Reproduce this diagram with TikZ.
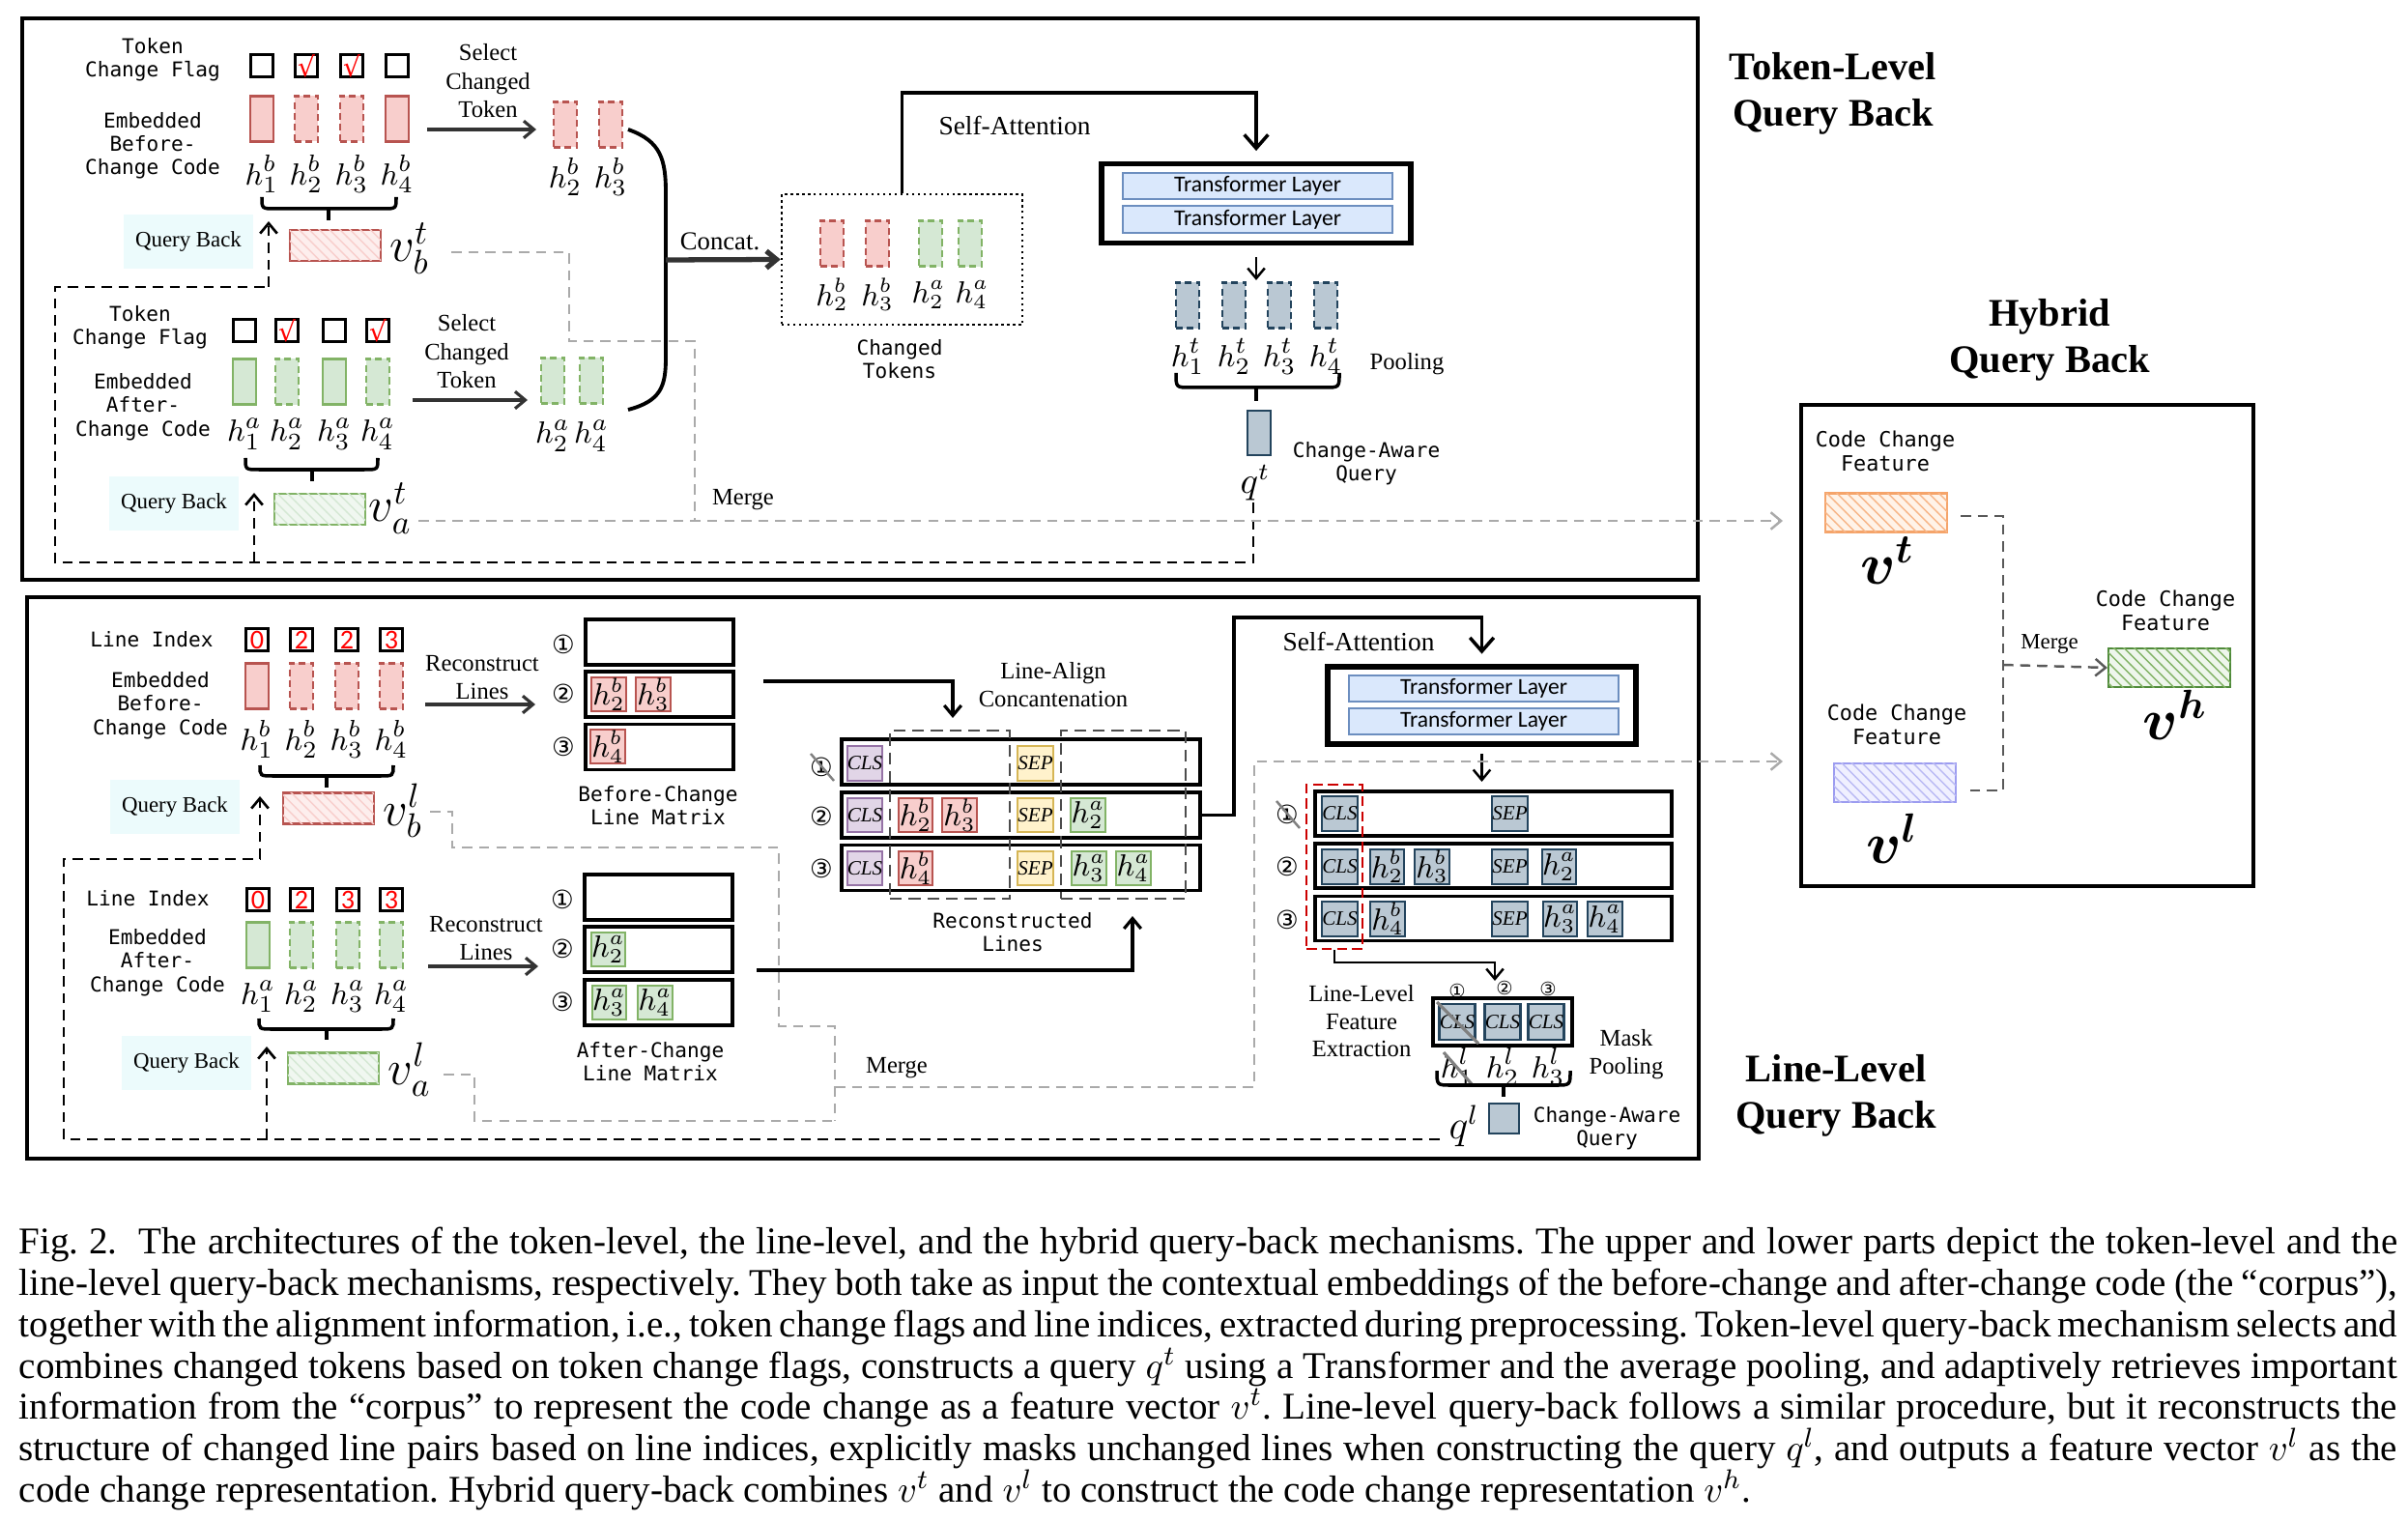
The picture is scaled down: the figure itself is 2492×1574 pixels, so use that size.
\documentclass[tikz,border=0pt]{standalone}
\usepackage{fontspec}
\setmainfont{Liberation Serif}
\newfontfamily\monofont{DejaVu Sans Mono}
\newfontfamily\symfont{DejaVu Sans}
\newfontfamily\layerfont{Carlito}
\usepackage{bm}
\usetikzlibrary{
positioning,%
patterns,%
arrows.meta
}
\definecolor{pinkf}{HTML}{F8CECC}
\definecolor{pinkd}{HTML}{B85450}
\definecolor{greenf}{HTML}{D5E8D4}
\definecolor{greend}{HTML}{82B366}
\definecolor{bluef}{HTML}{DAE8FC}
\definecolor{blued}{HTML}{6C8EBF}
\definecolor{grayf}{HTML}{BAC8D3}
\definecolor{grayd}{HTML}{23445D}
\definecolor{purplef}{HTML}{E1D5E7}
\definecolor{purpled}{HTML}{9673A6}
\definecolor{yellowf}{HTML}{FFF2CC}
\definecolor{yellowd}{HTML}{D6B656}
\definecolor{orangef}{HTML}{FFF3E8}
\definecolor{oranged}{HTML}{F5A46A}
\definecolor{lilacf}{HTML}{F0F0FF}
\definecolor{lilacd}{HTML}{9C9CF0}
\definecolor{hgreenf}{HTML}{EEF6EC}
\definecolor{hgreend}{HTML}{4F8A3A}
\definecolor{qbf}{HTML}{ECFBFC}
\definecolor{arrowc}{HTML}{333333}
\definecolor{mergec}{HTML}{AAAAAA}
\tikzset{
    frame/.style={draw, line width=1.3pt},
    mono/.style={font=\monofont\fontsize{6}{6.9}\selectfont, align=center, inner sep=0pt},
    note/.style={font=\fontsize{7}{8.4}\selectfont, align=center, inner sep=0pt},
    title/.style={font=\fontsize{11.5}{13.7}\selectfont\bfseries, align=center, inner sep=0pt},
    hlab/.style={font=\fontsize{9.5}{9.5}\selectfont, inner sep=0pt},
    vlab/.style={font=\fontsize{14}{14}\selectfont, inner sep=0pt},
    vbig/.style={font=\fontsize{17}{17}\selectfont, inner sep=0pt},
    flag/.style={draw, line width=0.6pt, minimum size=0.23cm, inner sep=0pt},
    idx/.style={flag, text=red, font=\layerfont\fontsize{8}{8}\selectfont},
    tick/.style={text=red, font=\symfont\fontsize{8}{8}\selectfont, inner sep=0pt},
    embb/.style={draw=pinkd, fill=pinkf, line width=0.6pt, minimum width=0.24cm, minimum height=0.47cm, inner sep=0pt},
    emba/.style={embb, draw=greend, fill=greenf},
    embt/.style={embb, draw=grayd, fill=grayf},
    chg/.style={dash pattern=on 2pt off 1.2pt},
    qback/.style={fill=qbf, minimum width=1.33cm, minimum height=0.55cm, inner sep=0pt, font=\fontsize{6.5}{7}\selectfont},
    vec/.style={minimum width=0.94cm, minimum height=0.32cm, inner sep=0pt, line width=0.6pt},
    vecb/.style={vec, draw=pinkd, fill=pinkf!35, postaction={pattern=north west lines, pattern color=pinkf}},
    veca/.style={vec, draw=greend, fill=greenf!35, postaction={pattern=north west lines, pattern color=greenf}},
    feat/.style={minimum width=1.26cm, minimum height=0.4cm, inner sep=0pt, line width=0.6pt},
    tokr/.style={draw=pinkd, fill=pinkf, line width=0.6pt, minimum size=0.355cm, inner sep=0pt, font=\fontsize{9}{9}\selectfont},
    toka/.style={tokr, draw=greend, fill=greenf},
    tokq/.style={tokr, draw=grayd, fill=grayf},
    cls/.style={tokr, draw=purpled, fill=purplef, font=\itshape\fontsize{6}{6}\selectfont},
    sep/.style={cls, draw=yellowd, fill=yellowf},
    clsq/.style={cls, draw=grayd, fill=grayf},
    row/.style={draw, line width=1pt, minimum height=0.47cm, inner sep=0pt},
    circ/.style={font=\symfont\fontsize{7.5}{7.5}\selectfont, inner sep=0pt},
    layer/.style={draw=blued, fill=bluef, line width=0.6pt, minimum width=2.79cm, minimum height=0.275cm, inner sep=0pt, font=\layerfont\fontsize{6.7}{6.7}\selectfont},
    trbox/.style={draw, line width=1.6pt, minimum width=3.2cm, minimum height=0.82cm, inner sep=0pt},
    flow/.style={->, draw=arrowc, line width=0.9pt},
    thin/.style={->, line width=0.7pt},
    attn/.style={-{Straight Barb[length=4pt, width=7pt]}, line width=1pt},
    qpath/.style={dash pattern=on 3pt off 2pt, line width=0.75pt},
    merge/.style={mergec, dash pattern=on 3pt off 2pt, line width=0.7pt},
    hmerge/.style={black!65, dash pattern=on 3pt off 2pt, line width=0.7pt},
    brace/.style={line width=1pt},
    xout/.style={gray, line width=0.7pt},
    capline/.style={anchor=base west, inner sep=0pt, font=\fontsize{11.1}{12}\selectfont\frenchspacing}
}

\begin{document}
\begin{tikzpicture}[x=0.01cm, y=-0.01cm, >={Straight Barb[length=3pt, width=5pt]}]
\useasboundingbox (0,0) rectangle (2492,1574);
\draw[frame] (23,19) rectangle (1757,600);
\draw[frame] (28,618) rectangle (1758,1199);
\draw[frame] (1864,419) rectangle (2332,917);
\node[title] (ttok) at (1897,97) {Token-Level\\Query Back};
\node[title] (thyb) at (2121,352) {Hybrid\\Query Back};
\node[title] (tline) at (1900,1134) {Line-Level\\Query Back};

% token level, before-change code
\node[mono] (tfb) at (158,62) {Token\\Change Flag};
\node[flag] (fb1) at (271,68) {};
\node[flag] (fb2) at (317,68) {};
\node[flag] (fb3) at (364,68) {};
\node[flag] (fb4) at (411,68) {};
\node[tick] (kb2) at (fb2) {√};
\node[tick] (kb3) at (fb3) {√};
\node[mono] (ecb) at (158,151) {Embedded\\Before-\\Change Code};
\node[embb] (bb1) at (271,123) {};
\node[embb, chg] (bb2) at (317,123) {};
\node[embb, chg] (bb3) at (364,123) {};
\node[embb] (bb4) at (411,123) {};
\node[hlab] (hb1) at (271,180) {$h_1^b$};
\node[hlab] (hb2) at (317,180) {$h_2^b$};
\node[hlab] (hb3) at (364,180) {$h_3^b$};
\node[hlab] (hb4) at (411,180) {$h_4^b$};
\draw[brace] (271,204) .. controls (271,216) .. (285,216) -- (396,216) .. controls (410,216) .. (410,204);
\draw[brace] (340,216) -- (340,228);
\node[qback] (qbb) at (195,250) {Query Back};
\node[vecb] (vtb) at (347,254) {};
\node[vlab] (lvtb) at (424,257) {$v_b^t$};
\node[note] (selb) at (505,84) {Select\\Changed\\Token};
\coordinate (selb0) at (442,134);
\coordinate (selb1) at (555,134);
\draw[flow] (selb0) -- (selb1);
\node[embb, chg] (sb2) at (585,129) {};
\node[embb, chg] (sb3) at (632,129) {};
\node[hlab] (hsb2) at (585,183) {$h_2^b$};
\node[hlab] (hsb3) at (632,183) {$h_3^b$};

% token level, after-change code
\node[mono] (tfa) at (145,339) {Token\\Change Flag};
\node[flag] (fa1) at (253,342) {};
\node[flag] (fa2) at (297,342) {};
\node[flag] (fa3) at (346,342) {};
\node[flag] (fa4) at (391,342) {};
\node[tick] (ka2) at (fa2) {√};
\node[tick] (ka4) at (fa4) {√};
\node[mono] (eca) at (148,421) {Embedded\\After-\\Change Code};
\node[emba] (ba1) at (253,395) {};
\node[emba, chg] (ba2) at (297,395) {};
\node[emba] (ba3) at (346,395) {};
\node[emba, chg] (ba4) at (391,395) {};
\node[hlab] (ha1) at (253,449) {$h_1^a$};
\node[hlab] (ha2) at (297,449) {$h_2^a$};
\node[hlab] (ha3) at (346,449) {$h_3^a$};
\node[hlab] (ha4) at (391,449) {$h_4^a$};
\draw[brace] (254,474) .. controls (254,486) .. (268,486) -- (377,486) .. controls (391,486) .. (391,474);
\draw[brace] (323,486) -- (323,498);
\node[qback] (qba) at (180,521) {Query Back};
\node[veca] (vta) at (331,527) {};
\node[vlab] (lvta) at (404,526) {$v_a^t$};
\node[note] (sela) at (483,364) {Select\\Changed\\Token};
\coordinate (sela0) at (427,414);
\coordinate (sela1) at (546,414);
\draw[flow] (sela0) -- (sela1);
\node[emba, chg] (sa2) at (572,394) {};
\node[emba, chg] (sa4) at (612,394) {};
\node[hlab] (hsa2) at (572,451) {$h_2^a$};
\node[hlab] (hsa4) at (612,451) {$h_4^a$};

% concatenation of changed tokens
\draw[line width=1.1pt] (650,134) .. controls (684,146) and (689,165) .. (689,200) -- (689,370) .. controls (689,400) and (684,415) .. (650,424);
\coordinate (cc) at (689,269);
\node[draw, densely dotted, line width=0.7pt, minimum width=2.49cm, minimum height=1.35cm] (ctok) at (933.5,268.5) {};
\draw[->, line width=1.5pt, arrowc] (cc) -- (ctok.west);
\node[note, font=\fontsize{7.6}{8}\selectfont] (lcc) at (745,250) {Concat.};
\node[embb, chg] (ct1) at (861,252) {};
\node[embb, chg] (ct2) at (908,252) {};
\node[emba, chg] (ct3) at (963,252) {};
\node[emba, chg] (ct4) at (1004,252) {};
\node[hlab, font=\fontsize{9}{9}\selectfont] (hct1) at (861,305) {$h_2^b$};
\node[hlab, font=\fontsize{9}{9}\selectfont] (hct2) at (908,305) {$h_3^b$};
\node[hlab, font=\fontsize{9}{9}\selectfont] (hct3) at (961,305) {$h_2^a$};
\node[hlab, font=\fontsize{9}{9}\selectfont] (hct4) at (1006,305) {$h_4^a$};
\node[mono] (lct) at (931,372) {Changed\\Tokens};

% token level transformer and pooling
\node[trbox] (trf) at (1300,210.5) {};
\node[layer] (tl1) at (1301.5,192.5) {Transformer Layer};
\node[layer] (tl2) at (1301.5,227) {Transformer Layer};
\coordinate (sat0) at (933.5,96);
\coordinate (sat1) at (1300,96);
\draw[attn, shorten >=3pt] (ctok.north) -- (sat0) -- (sat1) -- (trf.north);
\node[note, font=\fontsize{7.8}{8}\selectfont] (lsat) at (1050,130) {Self-Attention};
\coordinate (trf0) at (1300,290);
\draw[thin, shorten <=3.4pt] (trf.south) -- (trf0);
\node[embt, chg] (ht1) at (1229,316) {};
\node[embt, chg] (ht2) at (1277,316) {};
\node[embt, chg] (ht3) at (1324,316) {};
\node[embt, chg] (ht4) at (1372,316) {};
\node[hlab] (hht1) at (1229,369) {$h_1^t$};
\node[hlab] (hht2) at (1277,369) {$h_2^t$};
\node[hlab] (hht3) at (1324,369) {$h_3^t$};
\node[hlab] (hht4) at (1372,369) {$h_4^t$};
\draw[brace] (1217,386) .. controls (1217,401) .. (1232,401) -- (1371,401) .. controls (1386,401) .. (1386,386);
\draw[brace] (1300,401) -- (1300,415);
\node[note] (lpool) at (1456,377) {Pooling};
\node[embt, minimum height=0.46cm] (qt) at (1303,448) {};
\node[mono] (lcaq) at (1414,480) {Change-Aware\\Query};
\node[hlab, font=\fontsize{10.5}{10.5}\selectfont] (lqt) at (1299,500) {$q^t$};

% token level query back and merge
\coordinate (qt0) at (1297,520);
\coordinate (qtc1) at (57,582);
\coordinate (qtc2) at (278,297);
\coordinate (qtt) at (278,229);
\coordinate (qta0) at (263,582);
\coordinate (qtat) at (263,510);
\draw[qpath] (qt0) |- (qtc1) |- (qtc2);
\draw[qpath, ->] (qtc2) -- (qtt);
\draw[qpath, ->] (qta0) -- (qtat);
\coordinate (mtb) at (467,261);
\coordinate (mtc) at (589,353);
\coordinate (mtj) at (719,539);
\coordinate (mta) at (433,539);
\coordinate (mth) at (1845,539);
\draw[merge] (mtb) -| (mtc) -| (mtj);
\draw[merge, ->] (mta) -- (mth);
\node[note] (lmt) at (769,517) {Merge};

% line level, before-change code
\node[mono] (lib) at (157,662) {Line Index};
\node[idx] (ib1) at (266,662) {0};
\node[idx] (ib2) at (312,662) {2};
\node[idx] (ib3) at (359,662) {2};
\node[idx] (ib4) at (405,662) {3};
\node[mono] (elb) at (166,730) {Embedded\\Before-\\Change Code};
\node[embb] (lb1) at (266,710) {};
\node[embb, chg] (lb2) at (312,710) {};
\node[embb, chg] (lb3) at (359,710) {};
\node[embb, chg] (lb4) at (405,710) {};
\node[hlab] (hlb1) at (266,765) {$h_1^b$};
\node[hlab] (hlb2) at (312,765) {$h_2^b$};
\node[hlab] (hlb3) at (359,765) {$h_3^b$};
\node[hlab] (hlb4) at (405,765) {$h_4^b$};
\draw[brace] (269,792) .. controls (269,803) .. (283,803) -- (393,803) .. controls (407,803) .. (407,792);
\draw[brace] (338,803) -- (338,815);
\node[qback] (qblb) at (181,835) {Query Back};
\node[vecb] (vlb) at (340,836.5) {};
\node[vlab] (lvlb) at (417,839) {$v_b^l$};
\node[note] (rcb) at (499,701) {Reconstruct\\Lines};
\coordinate (rcb0) at (440,729);
\coordinate (rcb1) at (554,729);
\draw[flow] (rcb0) -- (rcb1);
\node[row, minimum width=1.53cm] (mb1) at (682.5,664.5) {};
\node[row, minimum width=1.53cm] (mb2) at (682.5,718.5) {};
\node[row, minimum width=1.53cm] (mb3) at (682.5,773) {};
\node[circ] (nb1) at (583,667) {①};
\node[circ] (nb2) at (583,718) {②};
\node[circ] (nb3) at (583,773) {③};
\node[tokr] (rb22) at (630,718.5) {$h_2^b$};
\node[tokr] (rb23) at (676,718.5) {$h_3^b$};
\node[tokr] (rb34) at (629,772.5) {$h_4^b$};
\node[mono] (lmb) at (681,833.5) {Before-Change\\Line Matrix};

% line level, after-change code
\node[mono] (lia) at (153,930) {Line Index};
\node[idx] (ia1) at (267,931) {0};
\node[idx] (ia2) at (312,931) {2};
\node[idx] (ia3) at (360,931) {3};
\node[idx] (ia4) at (405,931) {3};
\node[mono] (ela) at (163,996) {Embedded\\After-\\Change Code};
\node[emba] (la1) at (267,978) {};
\node[emba, chg] (la2) at (312,978) {};
\node[emba, chg] (la3) at (360,978) {};
\node[emba, chg] (la4) at (405,978) {};
\node[hlab] (hla1) at (267,1031) {$h_1^a$};
\node[hlab] (hla2) at (312,1031) {$h_2^a$};
\node[hlab] (hla3) at (360,1031) {$h_3^a$};
\node[hlab] (hla4) at (405,1031) {$h_4^a$};
\draw[brace] (268,1054) .. controls (268,1065) .. (282,1065) -- (393,1065) .. controls (407,1065) .. (407,1054);
\draw[brace] (338,1065) -- (338,1076);
\node[qback] (qbla) at (193,1100) {Query Back};
\node[veca] (vla) at (345,1105.5) {};
\node[vlab] (lvla) at (424,1107) {$v_a^l$};
\node[note] (rca) at (503,971) {Reconstruct\\Lines};
\coordinate (rca0) at (443,1000);
\coordinate (rca1) at (557,1000);
\draw[flow] (rca0) -- (rca1);
\node[row, minimum width=1.53cm] (ma1) at (681.5,928.5) {};
\node[row, minimum width=1.53cm] (ma2) at (681.5,982.5) {};
\node[row, minimum width=1.53cm] (ma3) at (681.5,1037.5) {};
\node[circ] (na1) at (582,931) {①};
\node[circ] (na2) at (582,982) {②};
\node[circ] (na3) at (582,1037) {③};
\node[toka] (ra22) at (629.5,982.5) {$h_2^a$};
\node[toka] (ra33) at (630.5,1037.5) {$h_3^a$};
\node[toka] (ra34) at (678,1037.5) {$h_4^a$};
\node[mono] (lma) at (673,1098.5) {After-Change\\Line Matrix};

% line-align concatenation
\node[row, minimum width=3.71cm] (cr1) at (1056.5,788.5) {};
\node[row, minimum width=3.71cm] (cr2) at (1056.5,843.5) {};
\node[row, minimum width=3.71cm] (cr3) at (1056.5,898) {};
\node[circ] (cn1) at (850,794) {①};
\node[circ] (cn2) at (850,845) {②};
\node[circ] (cn3) at (850,899) {③};
\draw[xout] (839,780) -- (863,808);
\node[cls] (c1c) at (895,790) {CLS};
\node[sep] (c1s) at (1071.5,790) {SEP};
\node[cls] (c2c) at (895,843.5) {CLS};
\node[tokr] (c22) at (947.5,843.5) {$h_2^b$};
\node[tokr] (c23) at (993,843.5) {$h_3^b$};
\node[sep] (c2s) at (1071.5,843.5) {SEP};
\node[toka] (c2a) at (1126,843.5) {$h_2^a$};
\node[cls] (c3c) at (895,898.5) {CLS};
\node[tokr] (c34) at (947.5,898.5) {$h_4^b$};
\node[sep] (c3s) at (1071.5,898.5) {SEP};
\node[toka] (c33) at (1127,898.5) {$h_3^a$};
\node[toka] (c3a4) at (1173,898.5) {$h_4^a$};
\node[draw=black!70, dash pattern=on 3.5pt off 2pt, line width=0.7pt, minimum width=1.24cm, minimum height=1.74cm] (gb1) at (983,843) {};
\node[draw=black!70, dash pattern=on 3.5pt off 2pt, line width=0.7pt, minimum width=1.29cm, minimum height=1.74cm] (gb2) at (1162.5,843) {};
\node[note] (llac) at (1090,708.5) {Line-Align\\Concantenation};
\node[mono] (lrl) at (1048,965) {Reconstructed\\Lines};
\coordinate (lab0) at (790,705);
\coordinate (labc) at (986,705);
\coordinate (labt) at (986,743);
\draw[thin, line width=0.9pt] (lab0) -- (labc) -- (labt);
\coordinate (laa0) at (783,1004);
\coordinate (laac) at (1172,1004);
\coordinate (laat) at (1172,948);
\draw[thin, line width=0.9pt] (laa0) -- (laac) -- (laat);

% line level transformer
\node[trbox, minimum height=0.8cm, minimum width=3.19cm] (trfl) at (1533.5,730) {};
\node[layer] (tll1) at (1535.5,712.5) {Transformer Layer};
\node[layer] (tll2) at (1535.5,746.5) {Transformer Layer};
\coordinate (sab0) at (1277,639);
\coordinate (sab1) at (1533.5,639);
\draw[attn, shorten >=3pt] (cr2.east) -| (sab0) -- (sab1) -- (trfl.north);
\node[note, font=\fontsize{7.8}{8}\selectfont] (lsab) at (1406,664) {Self-Attention};
\coordinate (trfl0) at (1533.5,809);
\draw[thin, shorten <=2pt] (trfl.south) -- (trfl0);
\node[row, minimum width=3.69cm, minimum height=0.46cm] (or1) at (1545.5,842) {};
\node[row, minimum width=3.69cm, minimum height=0.46cm] (or2) at (1545.5,896) {};
\node[row, minimum width=3.69cm, minimum height=0.46cm] (or3) at (1545.5,950.5) {};
\node[circ] (on1) at (1332,843) {①};
\node[circ] (on2) at (1332,897) {②};
\node[circ] (on3) at (1332,952) {③};
\draw[xout] (1321,829) -- (1345,857);
\node[clsq] (q1c) at (1386.5,842) {CLS};
\node[clsq] (q1s) at (1562.5,842) {SEP};
\node[clsq] (q2c) at (1386.5,897) {CLS};
\node[tokq] (q22) at (1435.5,897) {$h_2^b$};
\node[tokq] (q23) at (1482,897) {$h_3^b$};
\node[clsq] (q2s) at (1562.5,897) {SEP};
\node[tokq] (q2a) at (1613.5,897) {$h_2^a$};
\node[clsq] (q3c) at (1386.5,951) {CLS};
\node[tokq] (q34) at (1436,951) {$h_4^b$};
\node[clsq] (q3s) at (1562.5,951) {SEP};
\node[tokq] (q33) at (1614.5,951) {$h_3^a$};
\node[tokq] (q3a4) at (1661,951) {$h_4^a$};
\node[draw=red!80!black, dash pattern=on 3pt off 1.5pt, line width=0.6pt, minimum width=0.58cm, minimum height=1.7cm] (rdb) at (1381,897) {};

% line-level feature extraction and mask pooling
\node[note, font=\fontsize{7}{8.1}\selectfont] (llfe) at (1409,1057) {Line-Level\\Feature\\Extraction};
\node[row, minimum width=1.44cm, minimum height=0.49cm] (pb) at (1555,1057.5) {};
\coordinate (rdc) at (1547,996);
\coordinate (pbt) at (1547,1015);
\draw[thin] (rdb.south) |- (rdc) -- (pbt);
\node[clsq, minimum size=0.37cm] (pc1) at (1508,1057.5) {CLS};
\node[clsq, minimum size=0.37cm] (pc2) at (1555,1057.5) {CLS};
\node[clsq, minimum size=0.37cm] (pc3) at (1600,1057.5) {CLS};
\draw[xout, line width=0.9pt] (1487,1037) -- (1530,1080);
\node[circ, font=\symfont\fontsize{5.5}{5.5}\selectfont] (pn1) at (1508,1025) {①};
\node[circ, font=\symfont\fontsize{5.5}{5.5}\selectfont] (pn2) at (1557,1022) {②};
\node[circ, font=\symfont\fontsize{5.5}{5.5}\selectfont] (pn3) at (1602,1023) {③};
\node[hlab] (hl1) at (1508,1104) {$h_1^l$};
\node[hlab] (hl2) at (1555,1104) {$h_2^l$};
\node[hlab] (hl3) at (1602,1104) {$h_3^l$};
\draw[xout, line width=0.9pt] (1494,1089) -- (1524,1123);
\draw[brace] (1487,1108) .. controls (1487,1123) .. (1502,1123) -- (1610,1123) .. controls (1625,1123) .. (1625,1108);
\draw[brace] (1556,1123) -- (1556,1135);
\node[embt, minimum width=0.31cm, minimum height=0.31cm] (ql) at (1556.5,1157.5) {};
\node[hlab, font=\fontsize{12}{12}\selectfont] (lql) at (1515,1165) {$q^l$};
\node[note] (lmp) at (1683,1091) {Mask\\Pooling};
\node[mono] (lcaql) at (1663,1167.5) {Change-Aware\\Query};

% line level query back and merge
\coordinate (ql0) at (1490,1179);
\coordinate (qlc1) at (66,1179);
\coordinate (qlc2) at (269,889);
\coordinate (qlt) at (269,824);
\coordinate (qla0) at (276,1179);
\coordinate (qlat) at (276,1083);
\draw[qpath] (ql0) -- (qlc1) |- (qlc2);
\draw[qpath, ->] (qlc2) -- (qlt);
\draw[qpath, ->] (qla0) -- (qlat);
\coordinate (mlb) at (445,840);
\coordinate (mlc1) at (468,877);
\coordinate (mlc2) at (806,1062);
\coordinate (mlj) at (864,1160);
\coordinate (mla) at (459,1112);
\coordinate (mlc3) at (491,1160);
\coordinate (mlm) at (864,1125);
\coordinate (mlc4) at (1298,788);
\coordinate (mlh) at (1845,788);
\draw[merge] (mlb) -| (mlc1) -| (mlc2) -| (mlj);
\draw[merge] (mla) -| (mlc3) -- (mlj);
\draw[merge, ->] (mlm) -| (mlc4) -- (mlh);
\node[note] (lml) at (928,1105) {Merge};

% hybrid query back
\node[mono, font=\monofont\fontsize{6.2}{7.2}\selectfont] (cft) at (1951,467) {Code Change\\Feature};
\node[feat, draw=oranged, fill=orangef, postaction={pattern=north west lines, pattern color=oranged!80}] (fvt) at (1952,530.5) {};
\node[vbig] (lfvt) at (1953,580) {$\bm{v}^{\bm{t}}$};
\node[mono, font=\monofont\fontsize{6.2}{7.2}\selectfont] (cfl) at (1963,750) {Code Change\\Feature};
\node[feat, draw=lilacd, fill=lilacf, postaction={pattern=north west lines, pattern color=lilacd!70}] (fvl) at (1961,810) {};
\node[vbig] (lfvl) at (1958,868) {$\bm{v}^{\bm{l}}$};
\node[mono, font=\monofont\fontsize{6.2}{7.2}\selectfont] (cfh) at (2241,632) {Code Change\\Feature};
\node[feat, draw=hgreend, fill=hgreenf, postaction={pattern=north west lines, pattern color=greend}] (fvh) at (2245,691) {};
\node[vbig] (lfvh) at (2251,740) {$\bm{v}^{\bm{h}}$};
\coordinate (hm1) at (2029,534);
\coordinate (hmc) at (2073,818);
\coordinate (hm2) at (2033,818);
\coordinate (hmj) at (2073,688);
\draw[hmerge] (hm1) -| (hmc) -- (hm2);
\draw[hmerge, ->] (hmj) -- (fvh.west);
\node[note, font=\fontsize{6.5}{7}\selectfont] (lmh) at (2121,666) {Merge};

% caption
\node[capline] (cap1) at (19,1297) {\makebox[24.6cm][s]{Fig. 2.\ \ The architectures of the token-level, the line-level, and the hybrid query-back mechanisms. The upper and lower parts depict the token-level and the}};
\node[capline] (cap2) at (19,1340) {\makebox[24.6cm][s]{line-level query-back mechanisms, respectively. They both take as input the contextual embeddings of the before-change and after-change code (the ``corpus''),}};
\node[capline] (cap3) at (19,1383) {\makebox[24.6cm][s]{together with the alignment information, i.e., token change flags and line indices, extracted during preprocessing. Token-level query-back mechanism selects and}};
\node[capline] (cap4) at (19,1426) {\makebox[24.6cm][s]{combines changed tokens based on token change flags, constructs a query $q^t$ using a Transformer and the average pooling, and adaptively retrieves important}};
\node[capline] (cap5) at (19,1468) {\makebox[24.6cm][s]{information from the ``corpus'' to represent the code change as a feature vector $v^t$. Line-level query-back follows a similar procedure, but it reconstructs the}};
\node[capline] (cap6) at (19,1511) {\makebox[24.6cm][s]{structure of changed line pairs based on line indices, explicitly masks unchanged lines when constructing the query $q^l$, and outputs a feature vector $v^l$ as the}};
\node[capline] (cap7) at (19,1554) {code change representation. Hybrid query-back combines $v^t$ and $v^l$ to construct the code change representation $v^h$.};
\end{tikzpicture}
\end{document}
